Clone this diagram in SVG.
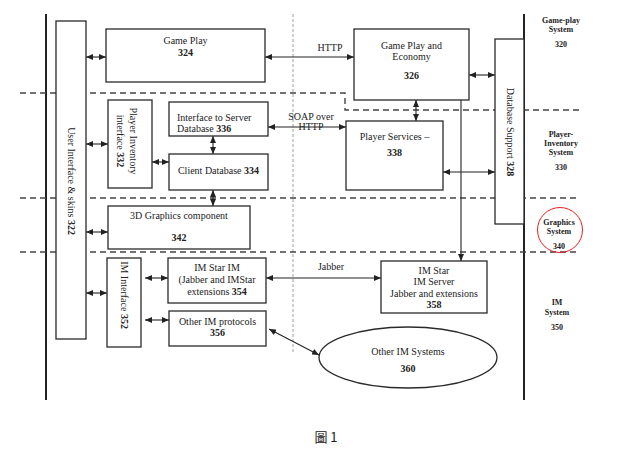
<svg xmlns="http://www.w3.org/2000/svg" width="628" height="450" viewBox="0 0 628 450">
<style>
.box{fill:#fff;stroke:#2a2a2a;stroke-width:1.3}
.t{font-family:"Liberation Serif","Times New Roman",serif;font-size:10px;fill:#222;text-anchor:middle}
.b{font-weight:bold}
.s{font-family:"Liberation Serif","Times New Roman",serif;font-size:8px;font-weight:bold;fill:#222;text-anchor:middle}
.dash{fill:none;stroke:#444;stroke-width:1.4;stroke-dasharray:6,4}
.c{fill:none;stroke:#222;stroke-width:1.1;marker-end:url(#ah)}
.c2{marker-start:url(#ah)}
</style>
<defs>
<marker id="ah" viewBox="0 0 7 6" refX="7" refY="3" markerWidth="7" markerHeight="6" markerUnits="userSpaceOnUse" orient="auto-start-reverse">
<path d="M0,0 L7,3 L0,6 z" fill="#222"/>
</marker>
</defs>
<rect width="628" height="450" fill="#fff"/>

<g id="frame">
<line x1="46" y1="14" x2="46" y2="400" stroke="#222" stroke-width="2"/>
<line x1="524" y1="14" x2="524" y2="400" stroke="#222" stroke-width="2"/>
<line x1="293" y1="14" x2="293" y2="353" stroke="#888" stroke-width="0.8" stroke-dasharray="3,2"/>
<polyline class="dash" points="20,93 345,93 345,110 580,110"/>
<line class="dash" x1="20" y1="198" x2="580" y2="198"/>
<line class="dash" x1="20" y1="252" x2="580" y2="252"/>
</g>

<g id="connectors">
<line class="c c2" x1="86" y1="57" x2="106" y2="57"/>
<line class="c c2" x1="265" y1="57" x2="354" y2="57"/>
<line class="c c2" x1="469" y1="75" x2="495" y2="75"/>
<line class="c c2" x1="416" y1="100" x2="416" y2="121"/>
<line class="c c2" x1="86" y1="144" x2="108" y2="144"/>
<line class="c c2" x1="152" y1="162" x2="169" y2="162"/>
<line class="c c2" x1="213" y1="136" x2="213" y2="154"/>
<line class="c c2" x1="268" y1="127" x2="346" y2="127"/>
<line class="c c2" x1="213" y1="190" x2="213" y2="206"/>
<line class="c c2" x1="443" y1="172" x2="495" y2="172"/>
<line class="c" x1="461" y1="100" x2="461" y2="261"/>
<line class="c c2" x1="86" y1="232" x2="108" y2="232"/>
<line class="c c2" x1="86" y1="293" x2="107" y2="293"/>
<line class="c c2" x1="145" y1="278" x2="168" y2="278"/>
<line class="c c2" x1="145" y1="320" x2="169" y2="320"/>
<line class="c c2" x1="266" y1="278" x2="381" y2="278"/>
<line class="c c2" x1="269" y1="329" x2="319" y2="355"/>
<text class="t" x="330" y="51">HTTP</text>
<text class="t" x="311" y="120">SOAP over</text>
<text class="t" x="311" y="130">HTTP</text>
<text class="t" x="331" y="270">Jabber</text>
</g>

<g id="ui322">
<rect class="box" x="56" y="21" width="30" height="318"/>
<text class="t" transform="translate(71,181) rotate(90)" dy="3.5">User Interface &amp; skins  <tspan class="b">322</tspan></text>
</g>

<g id="gameplay324">
<rect class="box" x="106" y="29" width="159" height="53"/>
<text class="t" x="185.5" y="44">Game Play</text>
<text class="t b" x="185.5" y="56">324</text>
</g>

<g id="gpe326">
<rect class="box" x="354" y="29" width="115" height="71"/>
<text class="t" x="411.5" y="49">Game Play and</text>
<text class="t" x="411.5" y="60">Economy</text>
<text class="t b" x="411.5" y="79">326</text>
</g>

<g id="db328">
<rect class="box" x="495" y="39" width="29" height="185"/>
<text class="t" transform="translate(510,132) rotate(90)" dy="3.5">Database Support <tspan class="b">328</tspan></text>
</g>

<g id="pii332">
<rect class="box" x="108" y="100" width="44" height="88"/>
<text class="t" transform="translate(133,141) rotate(90)" dy="3.5">Player Inventory</text>
<text class="t" transform="translate(120,141) rotate(90)" dy="3.5">interface  <tspan class="b">332</tspan></text>
</g>

<g id="isd336">
<rect class="box" x="169" y="102" width="99" height="34"/>
<text class="t" x="177" y="121" style="text-anchor:start">Interface to Server</text>
<text class="t" x="177" y="132" style="text-anchor:start">Database  <tspan class="b">336</tspan></text>
</g>

<g id="cdb334">
<rect class="box" x="169" y="154" width="99" height="36"/>
<text class="t" x="218.5" y="174">Client Database <tspan class="b">334</tspan></text>
</g>

<g id="ps338">
<rect class="box" x="346" y="121" width="97" height="69"/>
<text class="t" x="394.5" y="139.5">Player Services –</text>
<text class="t b" x="394.5" y="156">338</text>
</g>

<g id="g3d342">
<rect class="box" x="108" y="206" width="142" height="43"/>
<text class="t" x="179" y="219">3D Graphics component</text>
<text class="t b" x="179" y="241">342</text>
</g>

<g id="imi352">
<rect class="box" x="107" y="258" width="34" height="89"/>
<text class="t" transform="translate(124,295) rotate(90)" dy="3.5">IM Interface <tspan class="b">352</tspan></text>
</g>

<g id="imstar354">
<rect class="box" x="168" y="258" width="98" height="45"/>
<text class="t" x="217" y="271">IM Star IM</text>
<text class="t" x="217" y="283">(Jabber and IMStar</text>
<text class="t" x="217" y="295">extensions  <tspan class="b">354</tspan></text>
</g>

<g id="other356">
<rect class="box" x="169" y="311" width="97" height="35"/>
<text class="t" x="217.5" y="324.5">Other IM protocols</text>
<text class="t b" x="217.5" y="336">356</text>
</g>

<g id="server358">
<rect class="box" x="381" y="261" width="106" height="52"/>
<text class="t" x="434" y="273.5">IM Star</text>
<text class="t" x="434" y="285">IM Server</text>
<text class="t" x="434" y="296.5">Jabber and extensions</text>
<text class="t b" x="434" y="307.5">358</text>
</g>

<g id="othersys360">
<ellipse class="box" cx="408" cy="357.5" rx="89" ry="30.5"/>
<text class="t" x="408" y="354.5">Other IM Systems</text>
<text class="t b" x="408" y="371.5">360</text>
</g>

<g id="labels">
<text class="s" x="561" y="23">Game-play</text>
<text class="s" x="561" y="32">System</text>
<text class="s" x="561" y="47">320</text>
<text class="s" x="561" y="137">Player-</text>
<text class="s" x="561" y="146">Inventory</text>
<text class="s" x="561" y="155">System</text>
<text class="s" x="561" y="170">330</text>
<text class="s" x="559" y="225">Graphics</text>
<text class="s" x="559" y="234">System</text>
<text class="s" x="559" y="249">340</text>
<circle cx="560" cy="230" r="22.5" fill="none" stroke="#e02020" stroke-width="1"/>
<text class="s" x="557" y="305">IM</text>
<text class="s" x="557" y="315">System</text>
<text class="s" x="557" y="330">350</text>
</g>

<text x="326" y="442" font-family="'Noto Sans CJK TC','Noto Sans CJK SC',serif" font-size="13" fill="#222" text-anchor="middle">圖 1</text>
</svg>
